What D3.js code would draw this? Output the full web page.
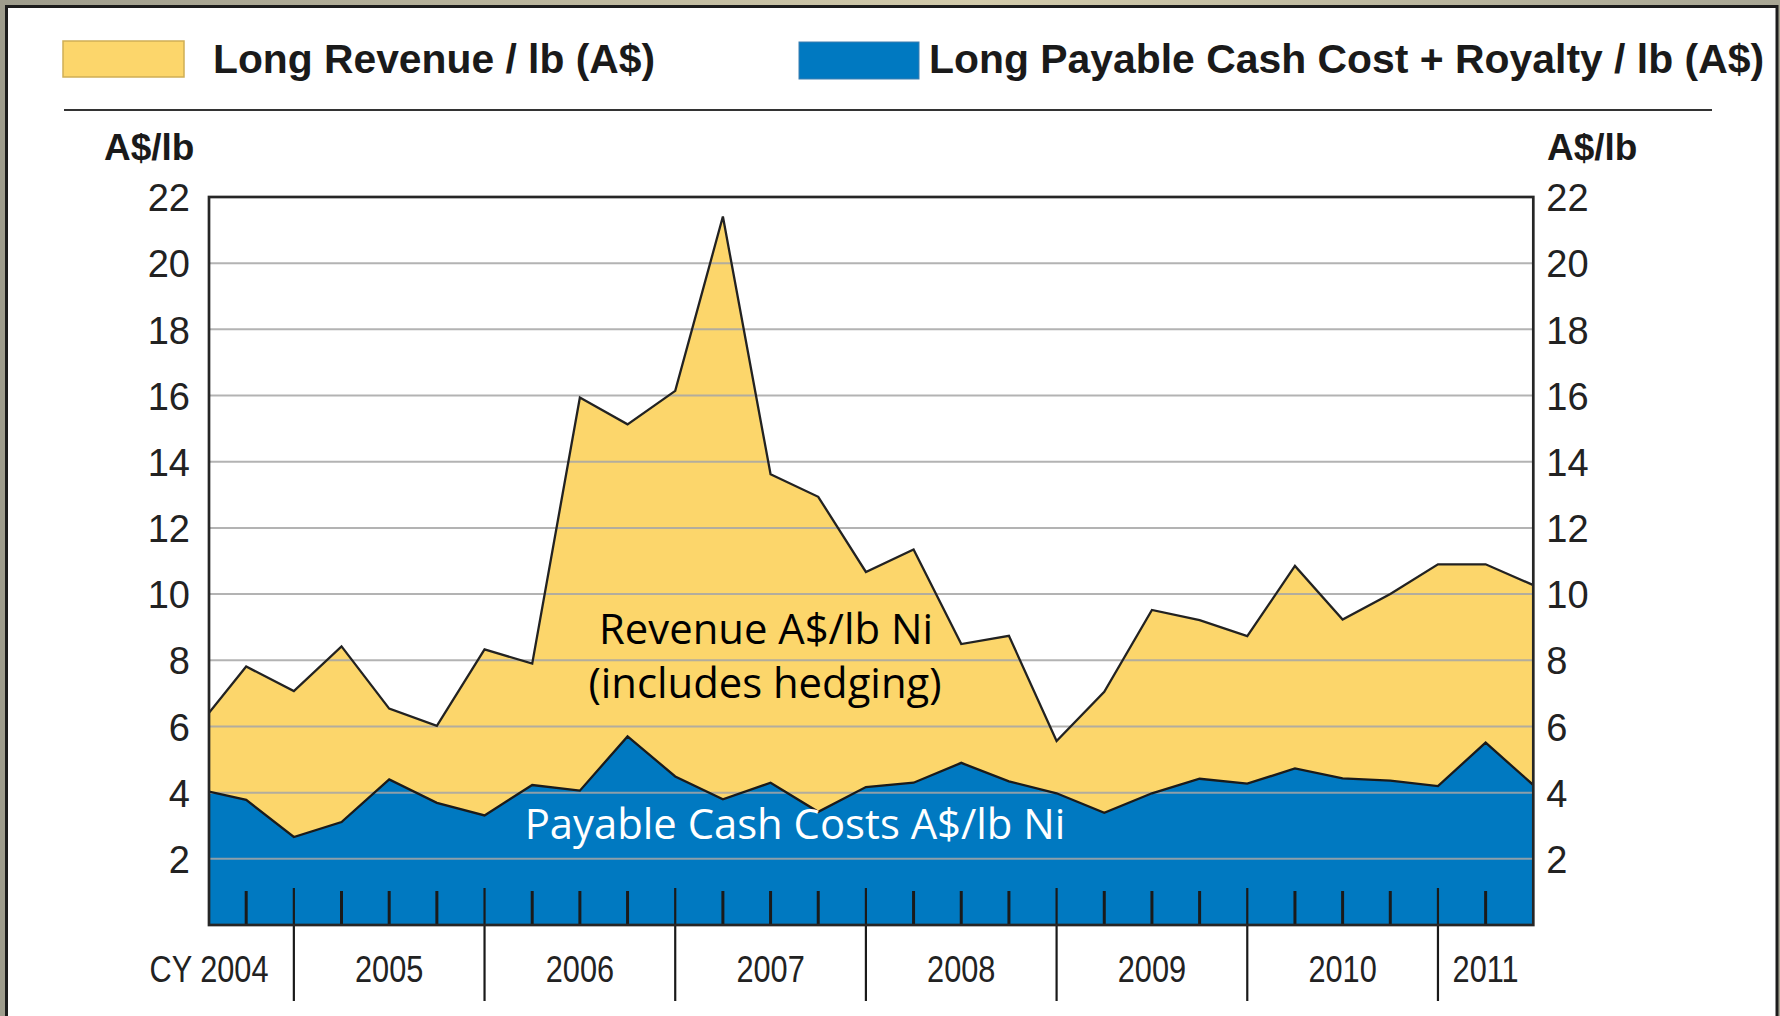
<!DOCTYPE html>
<html>
<head>
<meta charset="utf-8">
<script src="https://cdn.jsdelivr.net/npm/d3@7"></script>
<style>
  html, body { margin: 0; padding: 0; background: #a3a090; }
  svg { display: block; }
</style>
</head>
<body>
<svg id="chart" width="1780" height="1016"></svg>
<script>
// ---------------- DATA ----------------
// quarter positions (0.22 = chart start, integer = quarter boundaries)
const quarterPos = [0.22, 1, 2, 3, 4, 5, 6, 7, 8, 9, 10, 11, 12, 13, 14, 15, 16, 17, 18, 19, 20, 21, 22, 23, 24, 25, 26, 27, 28];
const revenue = [6.41, 7.81, 7.07, 8.42, 6.54, 6.02, 8.33, 7.90, 15.94, 15.13, 16.14, 21.41, 13.62, 12.94, 10.67, 11.35, 8.49, 8.74, 5.56, 7.05, 9.52, 9.21, 8.73, 10.85, 9.23, 10.0, 10.90, 10.90, 10.27];
const cost    = [4.03, 3.78, 2.66, 3.11, 4.40, 3.69, 3.31, 4.23, 4.06, 5.70, 4.49, 3.80, 4.30, 3.42, 4.17, 4.30, 4.90, 4.34, 3.98, 3.39, 3.98, 4.42, 4.27, 4.73, 4.43, 4.36, 4.20, 5.51, 4.23];
const yTicks = [2, 4, 6, 8, 10, 12, 14, 16, 18, 20, 22];
const quarterTicks = [1, 3, 4, 5, 7, 8, 9, 11, 12, 13, 15, 16, 17, 19, 20, 21, 23, 24, 25, 27];
const yearBoundaries = [2, 6, 10, 14, 18, 22, 26];
const yearLabels = ["CY 2004", "2005", "2006", "2007", "2008", "2009", "2010", "2011"];
const yearLabelAt = [0.22, 4, 8, 12, 16, 20, 24, 27];
const legendLabels = ["Long Revenue / lb (A$)", "Long Payable Cash Cost + Royalty / lb (A$)"];
const unitLabel = "A$/lb";
const annotRevenue = ["Revenue A$/lb Ni", "(includes hedging)"];
const annotCost = "Payable Cash Costs A$/lb Ni";

// ---------------- LAYOUT ----------------
const W = 1780, H = 1016;
const plot = { left: 209, right: 1533.3, top: 197, bottom: 925 };
const YELLOW = "#FCD66B", BLUE = "#0079C1", DARK = "#222";
const ARIAL = "'Liberation Sans', Arial, Helvetica, sans-serif";
const CALIBRI = "'Open Sans', 'Noto Sans', sans-serif";

const svg = d3.select("#chart");

// frame
const defs = svg.append("defs");
const grad = defs.append("linearGradient").attr("id", "bg").attr("x1", 0).attr("x2", 1).attr("y1", 0).attr("y2", 0);
grad.append("stop").attr("offset", "0%").attr("stop-color", "#9e9c8c");
grad.append("stop").attr("offset", "55%").attr("stop-color", "#d3cbab");
grad.append("stop").attr("offset", "100%").attr("stop-color", "#a8a694");
svg.append("rect").attr("x", 0).attr("y", 0).attr("width", W).attr("height", H).attr("fill", "url(#bg)");
svg.append("rect").attr("x", 6.5).attr("y", 6.5).attr("width", 1770.5).attr("height", 1100)
  .attr("fill", "#fff").attr("stroke", "#1c1c1c").attr("stroke-width", 3);

defs.append("clipPath").attr("id", "plotclip").append("rect")
  .attr("x", plot.left).attr("y", plot.top).attr("width", plot.right - plot.left).attr("height", plot.bottom - plot.top);

// scales
const x = d3.scaleLinear().domain([0.22, 28]).range([plot.left, plot.right]);
const y = d3.scaleLinear().domain([0, 22]).range([plot.bottom, plot.top]);

const pts = quarterPos.map((q, i) => ({ q, rev: revenue[i], cost: cost[i] }));

// legend
const legend = svg.append("g");
legend.append("rect").attr("x", 63).attr("y", 41).attr("width", 121).attr("height", 36)
  .attr("fill", YELLOW).attr("stroke", "#cfae55").attr("stroke-width", 1.5);
legend.append("text").attr("x", 213).attr("y", 72.5).text(legendLabels[0])
  .attr("font-family", ARIAL).attr("font-weight", "bold").attr("font-size", 40.8).attr("fill", "#1a1a1a");
legend.append("rect").attr("x", 799).attr("y", 42).attr("width", 120).attr("height", 37)
  .attr("fill", BLUE).attr("stroke", "#3d7fb0").attr("stroke-width", 1);
legend.append("text").attr("x", 929).attr("y", 72.5).text(legendLabels[1])
  .attr("font-family", ARIAL).attr("font-weight", "bold").attr("font-size", 40.9).attr("fill", "#1a1a1a");
svg.append("line").attr("x1", 64).attr("x2", 1712).attr("y1", 110).attr("y2", 110)
  .attr("stroke", "#333").attr("stroke-width", 2);

// unit labels
svg.append("text").attr("x", 104).attr("y", 159.5).text(unitLabel)
  .attr("font-family", ARIAL).attr("font-weight", "bold").attr("font-size", 37).attr("fill", "#1a1a1a");
svg.append("text").attr("x", 1547).attr("y", 159.5).text(unitLabel)
  .attr("font-family", ARIAL).attr("font-weight", "bold").attr("font-size", 37).attr("fill", "#1a1a1a");

// plot background
svg.append("rect").attr("x", plot.left).attr("y", plot.top)
  .attr("width", plot.right - plot.left).attr("height", plot.bottom - plot.top).attr("fill", "#fff");

const g = svg.append("g").attr("clip-path", "url(#plotclip)");

const areaRev = d3.area().x(d => x(d.q)).y0(y(0)).y1(d => y(d.rev));
const areaCost = d3.area().x(d => x(d.q)).y0(y(0)).y1(d => y(d.cost));
const lineRev = d3.line().x(d => x(d.q)).y(d => y(d.rev));
const lineCost = d3.line().x(d => x(d.q)).y(d => y(d.cost));

g.append("path").datum(pts).attr("d", areaRev).attr("fill", YELLOW);
g.append("path").datum(pts).attr("d", areaCost).attr("fill", BLUE);

// gridlines
g.append("g").selectAll("line").data(yTicks.filter(v => v < 22)).join("line")
  .attr("x1", plot.left).attr("x2", plot.right)
  .attr("y1", d => y(d)).attr("y2", d => y(d))
  .attr("stroke", "#a6a6a6").attr("stroke-opacity", 0.85).attr("stroke-width", 2);

g.append("path").datum(pts).attr("d", lineRev).attr("fill", "none")
  .attr("stroke", DARK).attr("stroke-width", 2.3).attr("stroke-linejoin", "miter");
g.append("path").datum(pts).attr("d", lineCost).attr("fill", "none")
  .attr("stroke", "#1a1a1a").attr("stroke-width", 2.3).attr("stroke-linejoin", "miter");

// minor quarter ticks
svg.append("g").selectAll("line").data(quarterTicks).join("line")
  .attr("x1", d => x(d)).attr("x2", d => x(d))
  .attr("y1", plot.bottom - 34).attr("y2", plot.bottom)
  .attr("stroke", "#1a1a1a").attr("stroke-width", 3);

// year boundary ticks
svg.append("g").selectAll("line").data(yearBoundaries).join("line")
  .attr("x1", d => x(d)).attr("x2", d => x(d))
  .attr("y1", plot.bottom - 37).attr("y2", 1001)
  .attr("stroke", "#1a1a1a").attr("stroke-width", 2.2);

// plot border
svg.append("rect").attr("x", plot.left).attr("y", plot.top)
  .attr("width", plot.right - plot.left).attr("height", plot.bottom - plot.top)
  .attr("fill", "none").attr("stroke", "#262626").attr("stroke-width", 2.7);

// y axis labels (left & right)
const yl = d3.axisLeft(y).tickValues(yTicks).tickSize(0).tickPadding(19);
const yr = d3.axisRight(y).tickValues(yTicks).tickSize(0).tickPadding(13);
const gl = svg.append("g").attr("transform", `translate(${plot.left},0)`).call(yl);
const gr = svg.append("g").attr("transform", `translate(${plot.right},0)`).call(yr);
[gl, gr].forEach(ax => {
  ax.select(".domain").remove();
  ax.selectAll("text").attr("font-family", ARIAL).attr("font-size", 38).attr("fill", "#222")
    .attr("dy", "0.36em");
});

// year labels (condensed)
svg.append("g").selectAll("text").data(yearLabels).join("text")
  .attr("transform", (d, i) => `translate(${x(yearLabelAt[i])},981.5) scale(0.83,1)`)
  .attr("text-anchor", "middle").text(d => d)
  .attr("font-family", ARIAL).attr("font-size", 37).attr("fill", "#222");

// annotations
svg.append("text").attr("x", 766).attr("y", 644).attr("text-anchor", "middle").text(annotRevenue[0])
  .attr("font-family", CALIBRI).attr("font-size", 41.8).attr("fill", "#000");
svg.append("text").attr("x", 765).attr("y", 698).attr("text-anchor", "middle").text(annotRevenue[1])
  .attr("font-family", CALIBRI).attr("font-size", 41.8).attr("fill", "#000");
svg.append("text").attr("x", 795).attr("y", 839).attr("text-anchor", "middle").text(annotCost)
  .attr("font-family", CALIBRI).attr("font-size", 41.8).attr("fill", "#fff");
</script>
</body>
</html>
